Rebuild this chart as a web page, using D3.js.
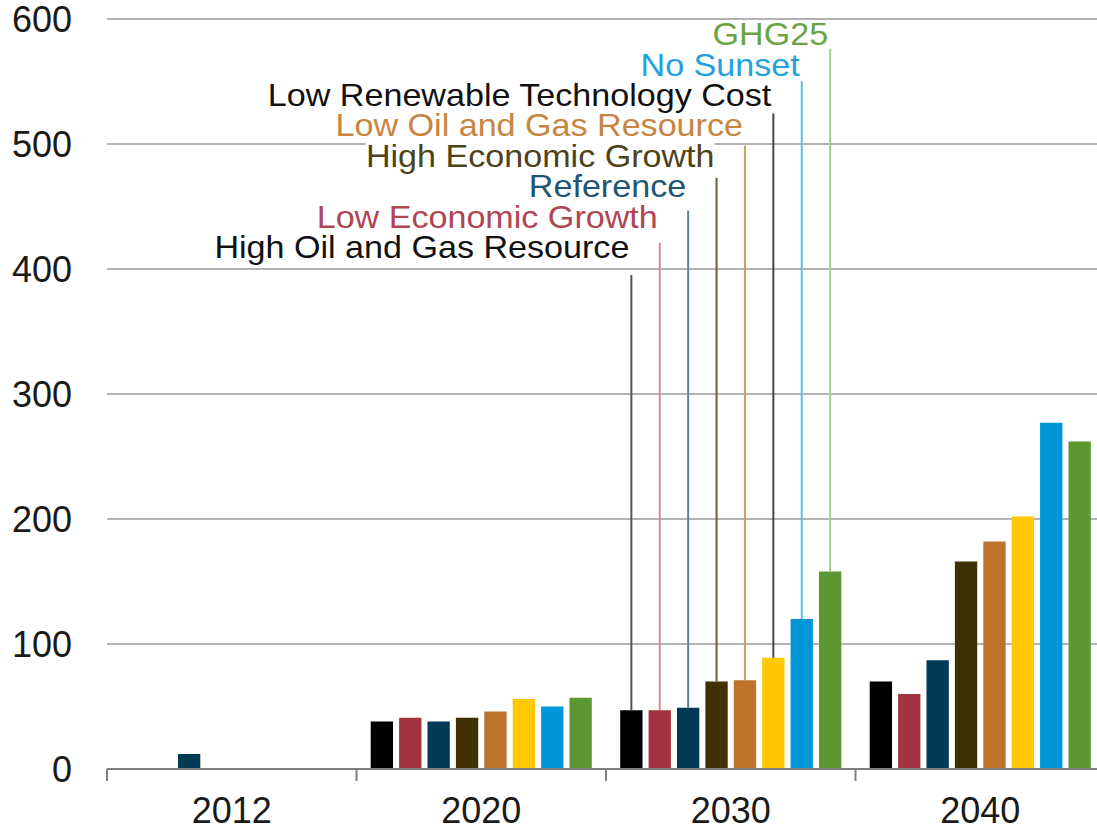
<!DOCTYPE html>
<html>
<head>
<meta charset="utf-8">
<script src="https://cdn.jsdelivr.net/npm/d3@7"></script>
<style>
  body { margin: 0; background: #fff; }
  svg { display: block; font-family: "Liberation Sans", Arial, sans-serif; }
</style>
</head>
<body>
<svg id="chart" width="1097" height="833"></svg>
<script>
// years on the x axis
const years = ["2012", "2020", "2030", "2040"];

// scenarios, in bar order
const scenarios = [
    "High Oil and Gas Resource",
    "Low Economic Growth",
    "Reference",
    "High Economic Growth",
    "Low Oil and Gas Resource",
    "Low Renewable Technology Cost",
    "No Sunset",
    "GHG25"
];

// values per scenario, one per year (null = no bar)
const highOilGas   = [null, 38, 47, 70];
const lowEconomic  = [null, 41, 47, 60];
const reference    = [12, 38, 49, 87];
const highEconomic = [null, 41, 70, 166];
const lowOilGas    = [null, 46, 71, 182];
const lowRenewable = [null, 56, 89, 202];
const noSunset     = [null, 50, 120, 277];
const ghg25        = [null, 57, 158, 262];

const yTicks = [0, 100, 200, 300, 400, 500, 600];

const seriesValues = [highOilGas, lowEconomic, reference, highEconomic, lowOilGas, lowRenewable, noSunset, ghg25];
const barColors  = ["#000000", "#a33340", "#003953", "#3f3103", "#bd732a", "#ffc800", "#0096d7", "#5d9732"];
const textColors = ["#111111", "#b04553", "#1f5573", "#4e4318", "#c8853f", "#111111", "#1ea2e0", "#6aa443"];
const lineColors = ["#555555", "#d48a95", "#5a8198", "#6b5e35", "#d49a5e", "#444444", "#5cbde9", "#a6cc8e"];

const svg = d3.select("#chart");
const left = 107, bandW = 249.5;
const x0 = d3.scaleBand().domain(years).range([left, left + bandW * years.length]);
const x1 = d3.scaleBand().domain(scenarios).range([0, x0.bandwidth()]).paddingInner(0.214).paddingOuter(0.5);
const y = d3.scaleLinear().domain([0, 600]).range([769, 19]);

// gridlines
svg.append("g")
    .selectAll("line")
    .data(yTicks.slice(1))
    .join("line")
    .attr("x1", left).attr("x2", 1097)
    .attr("y1", d => y(d)).attr("y2", d => y(d))
    .attr("stroke", "#9a9a9a")
    .attr("stroke-width", 1.5);

// y tick labels
svg.append("g")
    .selectAll("text")
    .data(yTicks)
    .join("text")
    .attr("x", 72)
    .attr("y", d => y(d))
    .attr("dy", "0.36em")
    .attr("text-anchor", "end")
    .attr("font-size", 36)
    .attr("fill", "#1a1a1a")
    .text(d => d);

// bars
const rows = [];
years.forEach((yr, i) => {
    scenarios.forEach((s, j) => {
        if (seriesValues[j][i] != null) rows.push({ year: yr, s: s, j: j, v: seriesValues[j][i] });
    });
});

svg.append("g")
    .selectAll("rect")
    .data(rows)
    .join("rect")
    .attr("x", d => x0(d.year) + x1(d.s))
    .attr("width", x1.bandwidth())
    .attr("y", d => y(d.v))
    .attr("height", d => y(0) - y(d.v))
    .attr("fill", d => barColors[d.j]);

// leader lines from the 2030 bars up to the labels
const labelYear = "2030";
const lineTop = j => 275 - j * 32.3;
const labelBase = j => 258 - j * 30.4;
const leaders = svg.append("g");
scenarios.forEach((s, j) => {
    const cx = x0(labelYear) + x1(s) + x1.bandwidth() / 2;
    leaders.append("line")
        .attr("x1", cx).attr("x2", cx)
        .attr("y1", y(seriesValues[j][2])).attr("y2", lineTop(j))
        .attr("stroke", lineColors[j])
        .attr("stroke-width", 2);
});

// labels with white boxes behind them (text is a bit wide in the original)
const labels = svg.append("g");
scenarios.forEach((s, j) => {
    const cx = x0(labelYear) + x1(s) + x1.bandwidth() / 2;
    const g = labels.append("g")
        .attr("transform", `translate(${cx - 2},${labelBase(j)}) scale(1.1,1)`);
    const t = g.append("text")
        .attr("text-anchor", "end")
        .attr("font-size", 31)
        .attr("fill", textColors[j])
        .text(s);
    const bb = t.node().getBBox();
    g.insert("rect", "text")
        .attr("x", bb.x).attr("y", bb.y + 3)
        .attr("width", bb.width).attr("height", bb.height - 5)
        .attr("fill", "#fff");
});

// x axis
const axis = svg.append("g");
axis.append("line")
    .attr("x1", left).attr("x2", 1097)
    .attr("y1", y(0)).attr("y2", y(0))
    .attr("stroke", "#7f7f7f").attr("stroke-width", 2);
axis.selectAll(".tick")
    .data(years)
    .join("line")
    .attr("class", "tick")
    .attr("x1", d => x0(d)).attr("x2", d => x0(d))
    .attr("y1", y(0)).attr("y2", y(0) + 12)
    .attr("stroke", "#7f7f7f").attr("stroke-width", 2);
axis.selectAll(".yl")
    .data(years)
    .join("text")
    .attr("class", "yl")
    .attr("x", d => x0(d) + x0.bandwidth() / 2)
    .attr("y", 823)
    .attr("text-anchor", "middle")
    .attr("font-size", 36)
    .attr("fill", "#1a1a1a")
    .text(d => d);
</script>
</body>
</html>
